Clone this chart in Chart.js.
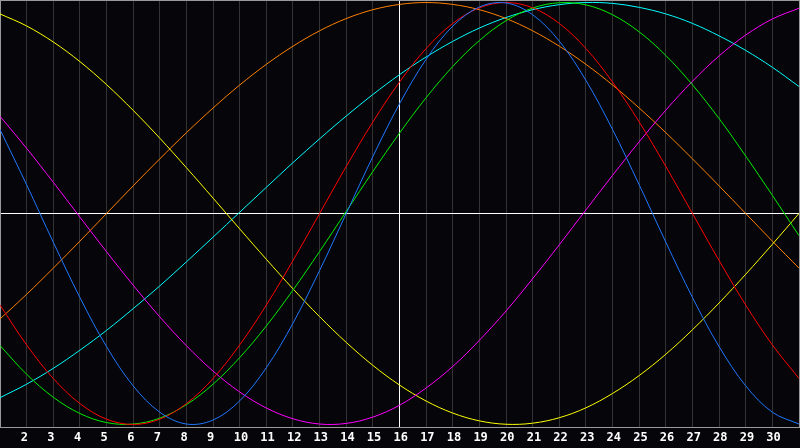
<!DOCTYPE html>
<html>
<head>
<meta charset="utf-8">
<script src="https://cdn.jsdelivr.net/npm/chart.js@4/dist/chart.umd.min.js"></script>
<style>
  html, body { margin: 0; padding: 0; background: #06050a; }
  #c { display: block; background: #06050a; }
</style>
</head>
<body>
<canvas id="c" width="800" height="448"></canvas>
<script>
// Days of the month (x axis)
const days = [1,2,3,4,5,6,7,8,9,10,11,12,13,14,15,16,17,18,19,20,21,22,23,24,25,26,27,28,29,30,31];
const today = 16;

// Series values (-1 .. 1)
const physical = [0.398,0.136,-0.136,-0.398,-0.631,-0.817,-0.942,-0.998,-0.979,-0.888,-0.731,-0.520,-0.270,0.000,0.270,0.520,0.731,0.888,0.979,0.998,0.942,0.817,0.631,0.398,0.136,-0.136,-0.398,-0.631,-0.817,-0.942,-0.998];
const emotional = [-0.434,-0.623,-0.782,-0.901,-0.975,-1.000,-0.975,-0.901,-0.782,-0.623,-0.434,-0.223,0.000,0.223,0.434,0.623,0.782,0.901,0.975,1.000,0.975,0.901,0.782,0.623,0.434,0.223,0.000,-0.223,-0.434,-0.623,-0.782];
const intellectual = [-0.626,-0.762,-0.871,-0.948,-0.991,-0.998,-0.970,-0.906,-0.809,-0.683,-0.533,-0.363,-0.180,0.010,0.199,0.381,0.549,0.697,0.820,0.914,0.974,0.999,0.989,0.942,0.861,0.749,0.610,0.450,0.272,0.086,-0.105];
const intuitive = [0.461,0.309,0.148,-0.017,-0.181,-0.340,-0.490,-0.627,-0.747,-0.846,-0.922,-0.973,-0.998,-0.995,-0.965,-0.909,-0.827,-0.725,-0.601,-0.462,-0.309,-0.148,0.017,0.181,0.340,0.490,0.627,0.747,0.846,0.922,0.973];
const aesthetic = [0.946,0.889,0.813,0.720,0.611,0.489,0.357,0.217,0.073,-0.073,-0.217,-0.357,-0.489,-0.611,-0.720,-0.813,-0.889,-0.946,-0.983,-0.999,-0.994,-0.968,-0.921,-0.853,-0.768,-0.667,-0.551,-0.424,-0.288,-0.146,0.000];
const awareness = [-0.500,-0.383,-0.259,-0.131,0.000,0.131,0.259,0.383,0.500,0.609,0.707,0.793,0.866,0.924,0.966,0.991,1.000,0.991,0.966,0.924,0.866,0.793,0.707,0.609,0.500,0.383,0.259,0.131,0.000,-0.131,-0.259];
const spiritual = [-0.873,-0.809,-0.734,-0.648,-0.554,-0.451,-0.343,-0.229,-0.112,0.006,0.124,0.241,0.354,0.462,0.564,0.658,0.742,0.816,0.879,0.929,0.966,0.990,1.000,0.996,0.977,0.946,0.901,0.842,0.773,0.693,0.602];

const seriesNames = ['Physical','Emotional','Intellectual','Intuitive','Aesthetic','Awareness','Spiritual'];
const seriesData = [physical, emotional, intellectual, intuitive, aesthetic, awareness, spiritual];
const seriesColors = ['#1f78ff','#ff0000','#00ee00','#ff00ff','#ffff00','#ff8000','#00ffff'];

const GRID = '#333333';
const FRAME = '#9a9a9a';

const datasets = seriesData.map((vals, i) => ({
  label: seriesNames[i],
  data: days.map((d, j) => ({ x: d, y: vals[j] })),
  borderColor: seriesColors[i],
  borderWidth: 1,
  pointRadius: 0,
  pointHoverRadius: 0,
  tension: 0.35,
  fill: false
}));

new Chart(document.getElementById('c'), {
  type: 'line',
  data: { datasets },
  options: {
    responsive: false,
    animation: false,
    devicePixelRatio: 1,
    layout: { padding: { left: 0, right: 1, top: 0, bottom: 0 } },
    plugins: { legend: { display: false }, tooltip: { enabled: false } },
    scales: {
      x: {
        type: 'linear',
        position: 'bottom',
        min: days[0],
        max: days[days.length - 1],
        ticks: {
          stepSize: 1,
          autoSkip: false,
          maxRotation: 0,
          align: 'start',
          labelOffset: -6,
          padding: 0,
          color: '#ffffff',
          font: { family: 'DejaVu Sans Mono', weight: 'bold', size: 12, lineHeight: 21 / 12 },
          callback: (v) => (v === days[0] || v === days[days.length - 1]) ? '' : String(v)
        },
        grid: {
          drawTicks: false,
          lineWidth: 1,
          color: (ctx) => (ctx.tick && ctx.tick.value === today) ? '#ffffff' : GRID
        },
        border: { display: true, color: FRAME, width: 1 }
      },
      xTop: {
        type: 'linear',
        position: 'top',
        ticks: { display: false },
        grid: { display: false, drawTicks: false },
        border: { display: true, color: FRAME, width: 1 }
      },
      y: {
        type: 'linear',
        position: 'left',
        min: -1.012,
        max: 1.012,
        afterBuildTicks: (scale) => { scale.ticks = [{ value: 0 }]; },
        ticks: { display: false },
        grid: { drawTicks: false, color: '#ffffff', lineWidth: 1 },
        border: { display: true, color: FRAME, width: 1 }
      },
      yRight: {
        type: 'linear',
        position: 'right',
        ticks: { display: false },
        grid: { display: false, drawTicks: false },
        border: { display: true, color: FRAME, width: 1 }
      }
    }
  }
});
</script>
</body>
</html>
